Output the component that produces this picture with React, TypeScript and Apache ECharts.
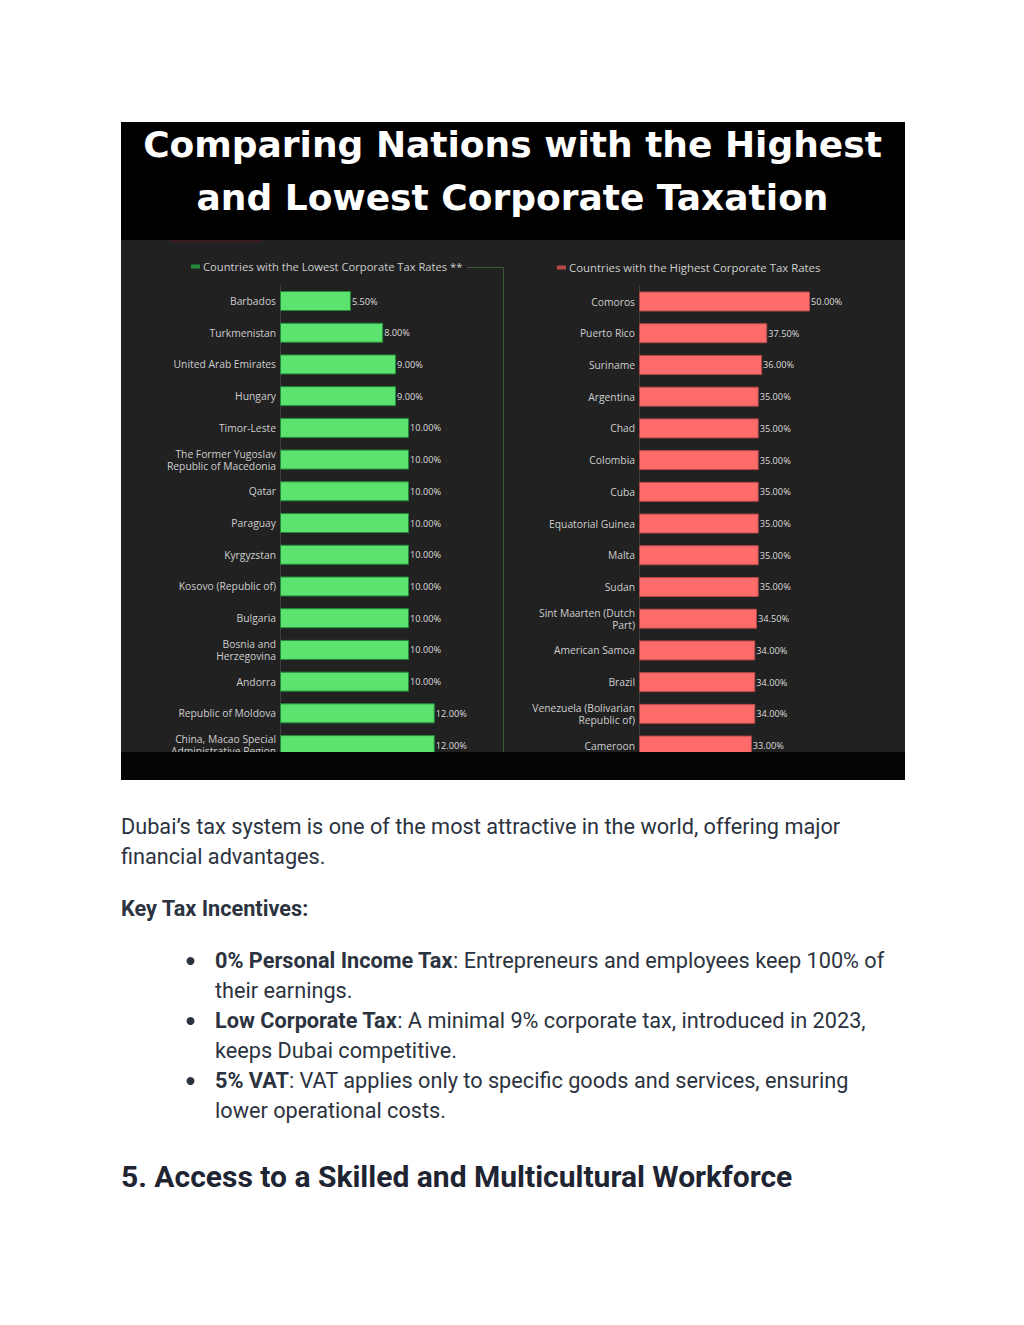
import React, { useEffect, useRef } from "react";
import * as echarts from "echarts";

const lowCountries = [
  "Barbados",
  "Turkmenistan",
  "United Arab Emirates",
  "Hungary",
  "Timor-Leste",
  "The Former Yugoslav\nRepublic of Macedonia",
  "Qatar",
  "Paraguay",
  "Kyrgyzstan",
  "Kosovo (Republic of)",
  "Bulgaria",
  "Bosnia and\nHerzegovina",
  "Andorra",
  "Republic of Moldova",
  "China, Macao Special\nAdministrative Region",
];
const lowRates = [5.5, 8, 9, 9, 10, 10, 10, 10, 10, 10, 10, 10, 10, 12, 12];

const highCountries = [
  "Comoros",
  "Puerto Rico",
  "Suriname",
  "Argentina",
  "Chad",
  "Colombia",
  "Cuba",
  "Equatorial Guinea",
  "Malta",
  "Sudan",
  "Sint Maarten (Dutch\nPart)",
  "American Samoa",
  "Brazil",
  "Venezuela (Bolivarian\nRepublic of)",
  "Cameroon",
];
const highRates = [50, 37.5, 36, 35, 35, 35, 35, 35, 35, 35, 34.5, 34, 34, 34, 33];

const lowName = "Countries with the Lowest Corporate Tax Rates **";
const highName = "Countries with the Highest Corporate Tax Rates";
const titleLines = ["Comparing Nations with the Highest", "and Lowest Corporate Taxation"];

const introLines = [
  "Dubai\u2019s tax system is one of the most attractive in the world, offering major",
  "financial advantages.",
];
const keyHeading = "Key Tax Incentives:";
const bullets = [
  { bold: "0% Personal Income Tax", rest: ": Entrepreneurs and employees keep 100% of", cont: "their earnings." },
  { bold: "Low Corporate Tax", rest: ": A minimal 9% corporate tax, introduced in 2023,", cont: "keeps Dubai competitive." },
  { bold: "5% VAT", rest: ": VAT applies only to specific goods and services, ensuring", cont: "lower operational costs." },
];
const sectionHeading = "5. Access to a Skilled and Multicultural Workforce";

const GREEN = "#5ce26e";
const RED = "#fd6b6b";
const CHART_FONT = "'Open Sans', sans-serif";
const DOC_FONT = "Roboto, sans-serif";
const TEXT_COLOR = "#2c3340";
const BODY_SIZE = 21.7;

export default function App() {
  const ref = useRef<HTMLDivElement>(null);
  useEffect(() => {
    if (!ref.current) return;
    const chart = echarts.init(ref.current, null, { renderer: "svg" });

    const rowH = 31.72;
    const gridTop = 301 - rowH / 2;
    const gridH = rowH * 15;

    const valueLabel = {
      show: true,
      position: "right",
      distance: 1,
      fontSize: 9.2,
      color: "#dcdcdc",
      fontFamily: CHART_FONT,
      formatter: (p: any) => p.value.toFixed(2) + "%",
    };

    const yAxisCommon = {
      type: "category",
      inverse: true,
      axisTick: { show: false },
      axisLine: { show: true, lineStyle: { color: "#3e3e3e", width: 1 } },
      axisLabel: {
        fontSize: 10.3,
        lineHeight: 12,
        color: "#cdcdcd",
        margin: 4,
        fontFamily: CHART_FONT,
        interval: 0,
      },
    };

    const graphics: any[] = [
      { type: "rect", z: -10, shape: { x: 121, y: 122, width: 784, height: 118 }, style: { fill: "#000" } },
      { type: "rect", z: -10, shape: { x: 121, y: 240, width: 784, height: 512 }, style: { fill: "#212121" } },
      { type: "rect", z: -9, shape: { x: 170, y: 240, width: 92, height: 2 }, style: { fill: "#3a1c1f" } },
      {
        type: "polyline",
        z: 1,
        shape: { points: [[467, 267.5], [503.5, 267.5], [503.5, 752]] },
        style: { stroke: "#3a5c3d", lineWidth: 1, fill: "none" },
      },
      { type: "rect", z: 100, shape: { x: 121, y: 752, width: 784, height: 28 }, style: { fill: "#050505" } },
    ];

    introLines.forEach((t, i) => {
      graphics.push({
        type: "text",
        x: 121,
        y: 826.5 + i * 30,
        style: { text: t, fontSize: BODY_SIZE, fontFamily: DOC_FONT, fill: TEXT_COLOR, verticalAlign: "middle" },
      });
    });
    graphics.push({
      type: "text",
      x: 121,
      y: 908.5,
      style: { text: keyHeading, fontSize: BODY_SIZE, fontWeight: "bold", fontFamily: DOC_FONT, fill: TEXT_COLOR, verticalAlign: "middle" },
    });
    bullets.forEach((b, i) => {
      const y = 960.5 + i * 60;
      graphics.push({ type: "circle", shape: { cx: 190.5, cy: y + 0.5, r: 4 }, style: { fill: TEXT_COLOR } });
      graphics.push({
        type: "text",
        x: 215,
        y,
        style: {
          text: "{b|" + b.bold + "}{r|" + b.rest + "}",
          fontSize: BODY_SIZE,
          fontFamily: DOC_FONT,
          fill: TEXT_COLOR,
          verticalAlign: "middle",
          rich: {
            b: { fontSize: BODY_SIZE, fontFamily: DOC_FONT, fontWeight: "bold", fill: TEXT_COLOR },
            r: { fontSize: BODY_SIZE, fontFamily: DOC_FONT, fill: TEXT_COLOR },
          },
        },
      });
      graphics.push({
        type: "text",
        x: 215,
        y: y + 30,
        style: { text: b.cont, fontSize: BODY_SIZE, fontFamily: DOC_FONT, fill: TEXT_COLOR, verticalAlign: "middle" },
      });
    });
    graphics.push({
      type: "text",
      x: 121,
      y: 1176.5,
      style: { text: sectionHeading, fontSize: 30, fontWeight: "bold", fontFamily: DOC_FONT, fill: "#1e2431", verticalAlign: "middle" },
    });

    const legendCommon = {
      padding: 0,
      icon: "rect",
      itemWidth: 7,
      itemHeight: 2,
      itemGap: 4,
      selectedMode: false,
      textStyle: { color: "#cdcdcd", fontSize: 11.2, fontFamily: CHART_FONT, padding: [0, 0, 0, -1] },
    };

    chart.setOption({
      animation: false,
      title: {
        text: titleLines.join("\n"),
        left: 507.5,
        top: 113,
        textAlign: "center",
        textStyle: {
          color: "#ffffff",
          fontSize: 36,
          fontWeight: "bold",
          lineHeight: 53,
          fontFamily: "'DejaVu Sans', sans-serif",
        },
      },
      legend: [
        { ...legendCommon, data: [lowName], left: 191, top: 261 },
        { ...legendCommon, data: [highName], left: 557, top: 262, textStyle: { ...legendCommon.textStyle, fontSize: 11.4 } },
      ],
      graphic: graphics,
      grid: [
        { left: 280, top: gridTop, width: 193.5, height: gridH },
        { left: 639, top: gridTop + 0.5, width: 205.2, height: gridH },
      ],
      xAxis: [
        { type: "value", gridIndex: 0, min: 0, max: 15, show: false },
        { type: "value", gridIndex: 1, min: 0, max: 60, show: false },
      ],
      yAxis: [
        { ...yAxisCommon, gridIndex: 0, data: lowCountries },
        { ...yAxisCommon, gridIndex: 1, data: highCountries },
      ],
      series: [
        {
          name: lowName,
          type: "bar",
          xAxisIndex: 0,
          yAxisIndex: 0,
          data: lowRates,
          barWidth: 20,
          itemStyle: { color: GREEN, borderColor: "#238a3a", borderWidth: 1 },
          label: valueLabel,
        },
        {
          name: highName,
          type: "bar",
          xAxisIndex: 1,
          yAxisIndex: 1,
          data: highRates,
          barWidth: 20,
          itemStyle: { color: RED, borderColor: "#b54848", borderWidth: 1 },
          label: valueLabel,
        },
      ],
    });
    return () => chart.dispose();
  }, []);
  return (
    <div
      ref={ref}
      style={{ position: "absolute", left: 0, top: 0, width: 1024, height: 1325 }}
    />
  );
}
